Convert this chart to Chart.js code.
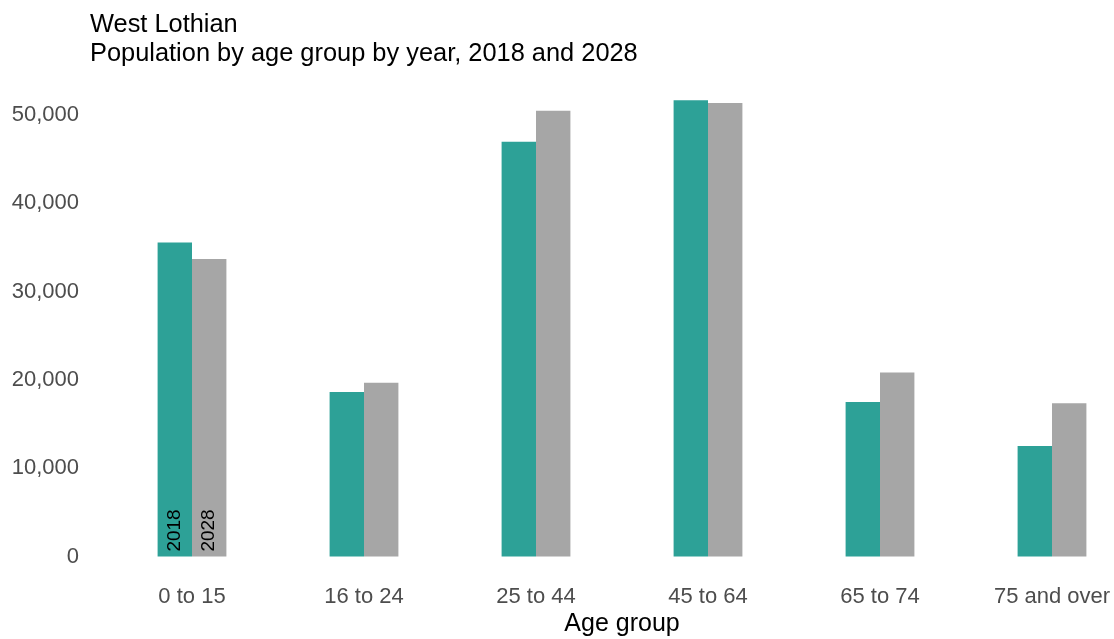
<!DOCTYPE html>
<html>
<head>
<meta charset="utf-8">
<script src="https://cdn.jsdelivr.net/npm/chart.js@4"></script>
<style>
  body { margin: 0; background: #fff; }
  #wrap { position: relative; width: 1114px; height: 639px; }
  .ttl { position: absolute; left: 90px; font: 25.4px "Liberation Sans", Arial, sans-serif; line-height: 29px; color: #000; white-space: nowrap; }
</style>
</head>
<body>
<div id="wrap">
  <canvas id="popChart"></canvas>
  <div class="ttl" style="top:9px">West Lothian</div>
  <div class="ttl" style="top:38px">Population by age group by year, 2018 and 2028</div>
</div>
<script>
const ageGroups = ['0 to 15', '16 to 24', '25 to 44', '45 to 64', '65 to 74', '75 and over'];
const pop2018 = [35550, 18630, 46930, 51620, 17500, 12500];
const pop2028 = [33670, 19670, 50450, 51320, 20830, 17340];
const yearLabels = ['2018', '2028'];
const yTicks = [0, 10000, 20000, 30000, 40000, 50000];

const font = '"Liberation Sans", Arial, sans-serif';

// writes the year up the first pair of bars
const yearTags = {
  id: 'yearTags',
  afterDatasetsDraw(chart) {
    const ctx = chart.ctx;
    ctx.save();
    ctx.font = '19px ' + font;
    ctx.fillStyle = '#000';
    ctx.textAlign = 'left';
    ctx.textBaseline = 'middle';
    chart.data.datasets.forEach((ds, i) => {
      const bar = chart.getDatasetMeta(i).data[0];
      ctx.save();
      ctx.translate(bar.x, bar.base - 5);
      ctx.rotate(-Math.PI / 2);
      ctx.fillText(ds.label, 0, 0);
      ctx.restore();
    });
    ctx.restore();
  }
};

new Chart('popChart', {
  type: 'bar',
  data: {
    labels: ageGroups,
    datasets: [
      { label: yearLabels[0], data: pop2018, backgroundColor: '#2DA197', clip: false },
      { label: yearLabels[1], data: pop2028, backgroundColor: '#A6A6A6', clip: false }
    ]
  },
  options: {
    responsive: true,
    maintainAspectRatio: false,
    animation: false,
    categoryPercentage: 0.4,
    barPercentage: 1,
    layout: { padding: { top: 97, right: 62, bottom: 0, left: 0 } },
    plugins: {
      legend: { display: false },
      tooltip: { enabled: false }
    },
    scales: {
      x: {
        offset: false,
        grid: { display: false, drawTicks: false },
        border: { display: false },
        afterFit: scale => { scale.height = 82.4; scale.paddingLeft = 0; scale.paddingRight = 0; },
        ticks: { color: '#4D4D4D', padding: 27, font: { family: font, size: 22 } },
        title: {
          display: true,
          text: 'Age group',
          color: '#000',
          padding: { top: 0, bottom: 0 },
          font: { family: font, size: 25, lineHeight: 1.16 }
        }
      },
      y: {
        min: 0,
        max: 52000,
        grid: { display: false, drawTicks: false },
        border: { display: false },
        afterBuildTicks: scale => { scale.ticks = yTicks.map(v => ({ value: v })); },
        afterFit: scale => { scale.width = 192; scale.paddingTop = 0; scale.paddingBottom = 0; },
        ticks: {
          color: '#4D4D4D',
          padding: 113,
          font: { family: font, size: 22 },
          callback: v => v.toLocaleString('en-GB')
        }
      }
    }
  },
  plugins: [yearTags]
});
</script>
</body>
</html>
